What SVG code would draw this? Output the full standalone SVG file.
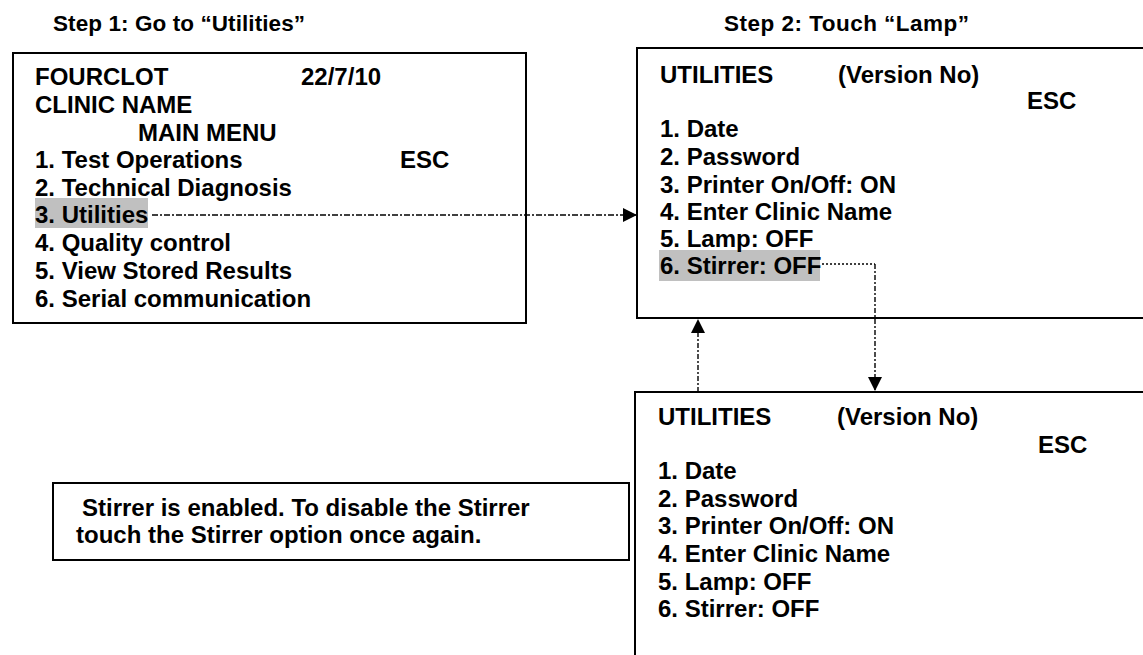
<svg xmlns="http://www.w3.org/2000/svg" width="1143" height="655" viewBox="0 0 1143 655">
<style>
text{font-family:"Liberation Sans",Arial,sans-serif;font-weight:bold;fill:#000}
.t{font-size:24px}
.h{font-size:22.5px}
.n{font-size:24px}
.box{fill:#fff;stroke:#000;stroke-width:2}
.hl{fill:#c0c0c0}
.c{fill:none;stroke:#000;stroke-width:1.4}
</style>
<defs>
<marker id="ah" markerUnits="userSpaceOnUse" markerWidth="15" markerHeight="14" refX="14" refY="7" orient="auto">
<path d="M0,0 L14,7 L0,14 Z" fill="#000"/>
</marker>
</defs>
<rect width="1143" height="655" fill="#fff"/>
<g id="title1"><text class="h" x="53" y="31" textLength="252" lengthAdjust="spacing">Step 1: Go to “Utilities”</text></g>
<g id="title2"><text class="h" x="724" y="31" textLength="245" lengthAdjust="spacing">Step 2: Touch “Lamp”</text></g>
<g id="mainmenu">
<rect class="box" x="13" y="53" width="513" height="270"/>
<rect class="hl" x="35" y="198" width="113" height="30"/>
<text class="t" x="35" y="85">FOURCLOT</text>
<text class="t" x="301" y="85">22/7/10</text>
<text class="t" x="35" y="113">CLINIC NAME</text>
<text class="t" x="138" y="141">MAIN MENU</text>
<text class="t" x="35" y="168">1. Test Operations</text>
<text class="t" x="400" y="168">ESC</text>
<text class="t" x="35" y="196">2. Technical Diagnosis</text>
<text class="t" x="35" y="223">3. Utilities</text>
<text class="t" x="35" y="251">4. Quality control</text>
<text class="t" x="35" y="279">5. View Stored Results</text>
<text class="t" x="35" y="307">6. Serial communication</text>
</g>
<g id="utilities1">
<rect class="box" x="637" y="48" width="520" height="270"/>
<rect class="hl" x="659" y="250" width="161" height="31"/>
<text class="t" x="660" y="83">UTILITIES</text>
<text class="t" x="838" y="83">(Version No)</text>
<text class="t" x="1027" y="109">ESC</text>
<text class="t" x="660" y="137">1. Date</text>
<text class="t" x="660" y="165">2. Password</text>
<text class="t" x="660" y="193">3. Printer On/Off: ON</text>
<text class="t" x="660" y="220">4. Enter Clinic Name</text>
<text class="t" x="660" y="247">5. Lamp: OFF</text>
<text class="t" x="660" y="274">6. Stirrer: OFF</text>
</g>
<g id="utilities2">
<rect class="box" x="635" y="392" width="520" height="280"/>
<text class="t" x="658" y="425">UTILITIES</text>
<text class="t" x="837" y="425">(Version No)</text>
<text class="t" x="1038" y="453">ESC</text>
<text class="t" x="658" y="479">1. Date</text>
<text class="t" x="658" y="507">2. Password</text>
<text class="t" x="658" y="534">3. Printer On/Off: ON</text>
<text class="t" x="658" y="562">4. Enter Clinic Name</text>
<text class="t" x="658" y="590">5. Lamp: OFF</text>
<text class="t" x="658" y="617">6. Stirrer: OFF</text>
</g>
<g id="note">
<rect class="box" x="53" y="483" width="576" height="77"/>
<text class="n" x="82" y="516">Stirrer is enabled. To disable the Stirrer</text>
<text class="n" x="76" y="543">touch the Stirrer option once again.</text>
</g>
<g id="connectors">
<line class="c" x1="152" y1="215" x2="637" y2="215" stroke-dasharray="6 2 2 2" marker-end="url(#ah)"/>
<path class="c" d="M822,264 H875" stroke-dasharray="2 2"/>
<line class="c" x1="875" y1="264" x2="875" y2="391" stroke-dasharray="5 2 2 2" marker-end="url(#ah)"/>
<line class="c" x1="698" y1="392" x2="698" y2="319" stroke-dasharray="5 2 2 2" marker-end="url(#ah)"/>
</g>
</svg>
